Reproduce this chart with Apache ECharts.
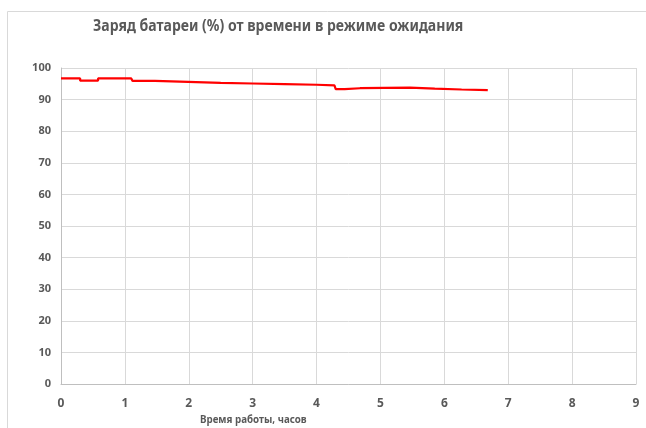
<!DOCTYPE html>
<html><head><meta charset="utf-8">
<script src="https://cdn.jsdelivr.net/npm/echarts@6/dist/echarts.min.js"></script>
<style>html,body{margin:0;padding:0;background:#fff}#c{width:646px;height:428px}</style>
</head><body><div id="c"></div>
<script>
const titleText = 'Заряд батареи (%) от времени в режиме ожидания';
const xAxisTitle = 'Время работы, часов';
const hours  = [0, 0.30, 0.30, 0.58, 0.58, 1.10, 1.12, 1.47, 1.49, 1.86, 1.88, 2.5, 3.0, 3.5, 4.0, 4.28, 4.30, 4.44, 4.46, 4.68, 4.70, 5.46, 5.48, 5.85, 5.87, 6.27, 6.29, 6.68];
const charge = [96.7, 96.7, 96.0, 96.0, 96.7, 96.7, 95.9, 95.9, 95.7, 95.7, 95.5, 95.3, 95.1, 94.9, 94.7, 94.5, 93.3, 93.3, 93.6, 93.6, 93.8, 93.8, 93.5, 93.5, 93.2, 93.2, 93.0, 93.0];
const xMax = 9, yMax = 100;

const chart = echarts.init(document.getElementById('c'), null, {renderer:'canvas'});
const labelStyle = {color:'#595959', fontFamily:'Noto Sans', fontWeight:'bold', fontSize:12};
chart.setOption({
  animation:false,
  graphic:[
    {type:'rect', shape:{x:7.5,y:11.5,width:660,height:430}, style:{fill:'none', stroke:'#d9d9d9', lineWidth:1}, silent:true},
    {type:'text', x:93, y:18, scaleX:0.85, style:{text:titleText, fill:'#595959', font:'bold 16.5px "Noto Sans"', textVerticalAlign:'top'}},
    {type:'text', left:200, top:415, scaleX:0.93, style:{text:xAxisTitle, fill:'#595959', font:'bold 10.5px "Noto Sans"'}}
  ],
  grid:{left:61, right:10, top:68, bottom:44, containLabel:false},
  xAxis:{type:'value', min:0, max:xMax, interval:1,
    axisLine:{show:true, lineStyle:{color:'#bfbfbf'}}, axisTick:{show:false},
    axisLabel:Object.assign({margin:14}, labelStyle),
    splitLine:{show:true, lineStyle:{color:'#d9d9d9'}}},
  yAxis:{type:'value', min:0, max:yMax, interval:10,
    axisLine:{show:true, lineStyle:{color:'#bfbfbf'}}, axisTick:{show:false},
    axisLabel:Object.assign({margin:10}, labelStyle, {fontSize:11}),
    splitLine:{show:true, lineStyle:{color:'#d9d9d9'}}},
  series:[{type:'line', data:hours.map((h,i)=>[h,charge[i]]), showSymbol:false,
    lineStyle:{color:'#ff0000', width:2.2}}]
});
</script></body></html>
